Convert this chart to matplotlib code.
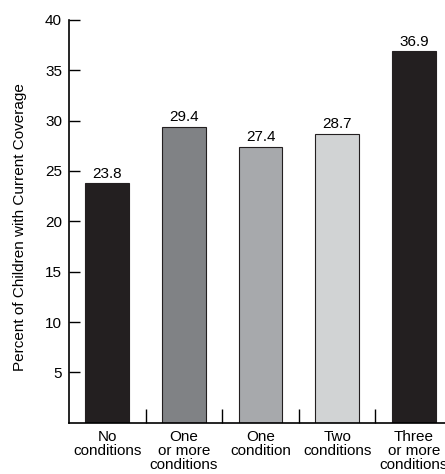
import matplotlib.pyplot as plt
from matplotlib import font_manager

# procura o arquivo da Liberation Sans regular (evita cair na versao Narrow)
arquivos = [f for f in font_manager.findSystemFonts() if f.endswith("LiberationSans-Regular.ttf")]
if arquivos:
    font_manager.fontManager.addfont(arquivos[0])
    nome = font_manager.FontProperties(fname=arquivos[0]).get_name()
    plt.rcParams['font.family'] = [nome, 'DejaVu Sans']

categorias = ["No\nconditions", "One\nor more\nconditions", "One\ncondition",
              "Two\nconditions", "Three\nor more\nconditions"]
valores = [23.8, 29.4, 27.4, 28.7, 36.9]
cores = ["#231f20", "#808285", "#a7a9ac", "#d1d3d4", "#231f20"]
yticks = [5, 10, 15, 20, 25, 30, 35, 40]

fig = plt.figure(figsize=(4.45, 4.74), dpi=100)
ax = fig.add_axes([0.155, 0.108, 0.861, 0.850])

x = list(range(len(valores)))
ax.bar(x, valores, width=0.57, color=cores, edgecolor="#231f20", linewidth=0.8)

# rotulos de valor em cima das barras
for xi, v in zip(x, valores):
    ax.text(xi, v + 0.25, f"{v:.1f}", ha="center", va="bottom", fontsize=11)

ax.set_xlim(-0.5, 4.5)
ax.set_ylim(0, 40)
ax.set_yticks(yticks)
ax.tick_params(axis="y", direction="in", length=8, width=1, labelsize=11, pad=5)

ax.set_xticks(x)
ax.set_xticklabels(categorias, fontsize=11, linespacing=1.02)
ax.tick_params(axis="x", which="major", length=0, pad=5)
ax.set_xticks([0.5, 1.5, 2.5, 3.5], minor=True)
ax.tick_params(axis="x", which="minor", direction="in", length=10, width=1)

for s in ["top", "right"]:
    ax.spines[s].set_visible(False)
for s in ["left", "bottom"]:
    ax.spines[s].set_linewidth(1.2)

ax.set_ylabel("Percent of Children with Current Coverage", fontsize=11)
ax.yaxis.set_label_coords(-0.11, 0.485)

fig.savefig("out.png", dpi=100)
